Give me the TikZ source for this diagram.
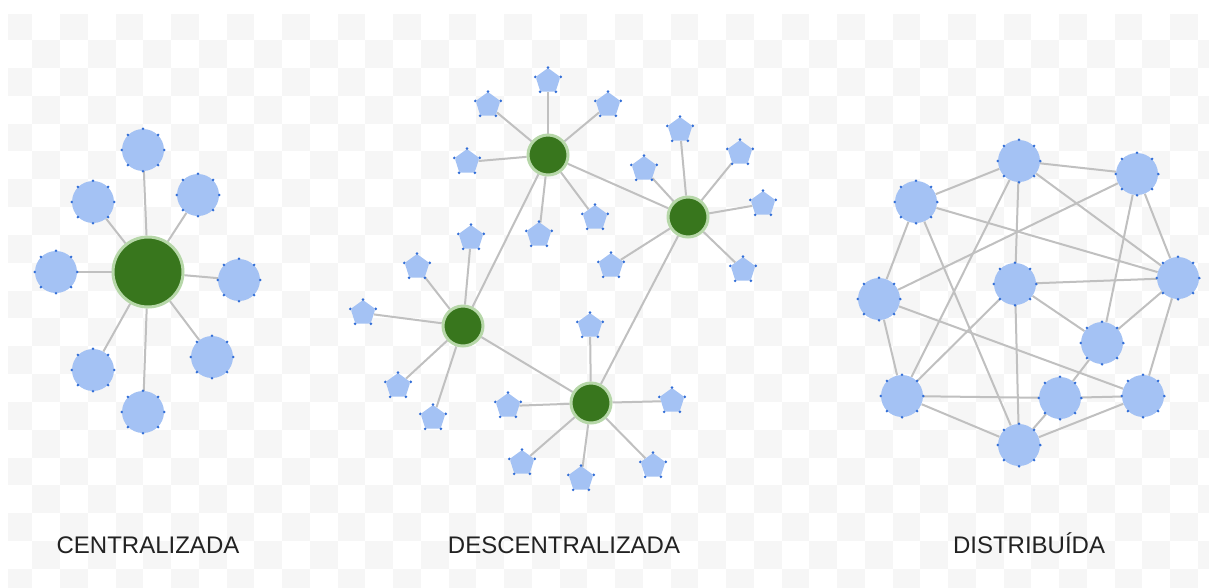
\documentclass[tikz,border=0pt]{standalone}
\usepackage{fontspec}
\setmainfont{Liberation Sans}
\usetikzlibrary{shapes.geometric}

\definecolor{checker}{RGB}{246,246,246}
\definecolor{hubgreen}{RGB}{56,118,29}
\definecolor{hubring}{RGB}{182,215,168}
\definecolor{peerfill}{RGB}{164,194,244}
\definecolor{peerdot}{RGB}{50,110,215}
\definecolor{linkgray}{RGB}{192,192,192}
\definecolor{captiontext}{RGB}{34,34,34}

\pgfdeclarelayer{board}
\pgfdeclarelayer{links}
\pgfsetlayers{board,links,main}

\tikzset{
  hub/.style={circle, fill=hubgreen, draw=hubring, line width=2.25pt,
    inner sep=0pt, minimum size=#1},
  peer/.style={circle, fill=peerfill, inner sep=0pt, minimum size=31.5pt},
  leaf/.style={regular polygon, regular polygon sides=5, fill=peerfill,
    inner sep=0pt, minimum size=19.5pt, rounded corners=1.5pt},
  link/.style={draw=linkgray, line width=1.5pt},
  caption/.style={font=\fontsize{18}{21}\selectfont, text=captiontext, anchor=base}
}

% small blue marks around a round peer / a pentagon leaf
\newcommand\ringmarks[1]{%
  \foreach \a in {0,45,...,315}{\fill[peerdot] (#1.\a) circle (1.1pt);}}
\newcommand\cornermarks[1]{%
  \foreach \c in {1,...,5}{\fill[peerdot] (#1.corner \c) circle (1.1pt);}}

\begin{document}
\begin{tikzpicture}[x=0.75pt, y=-0.75pt]
\useasboundingbox (0,0) rectangle (1209,587);

% checkered backdrop
\begin{pgfonlayer}{board}
  \fill[white] (0,0) rectangle (1209,587);
  \begin{scope}
    \clip (8,14) rectangle (1209,587);
    \foreach \r in {0,...,20}{
      \foreach \k in {0,...,43}{
        \pgfmathtruncatemacro\parity{mod(\r+\k,2)}
        \ifnum\parity=0
          \fill[checker] (4.55+27.75*\k, 12.16+27.84*\r) rectangle ++(27.75,27.84);
        \fi
      }
    }
  \end{scope}
\end{pgfonlayer}

% ---------- centralised network ----------
\node[hub=52.5pt] (c0) at (148,272) {};
\node[peer] (c1) at (143,150) {};
\node[peer] (c2) at (93,202) {};
\node[peer] (c3) at (198,195) {};
\node[peer] (c4) at (56,272) {};
\node[peer] (c5) at (239,280) {};
\node[peer] (c6) at (93,370) {};
\node[peer] (c7) at (212,357) {};
\node[peer] (c8) at (143,412) {};
\foreach \i in {1,...,8}{\ringmarks{c\i}}

% ---------- decentralised network ----------
\node[hub=30pt] (g1) at (548,155) {};
\node[hub=30pt] (g2) at (688,217) {};
\node[hub=30pt] (g3) at (463,326) {};
\node[hub=30pt] (g4) at (591,403) {};

\node[leaf] (a1) at (548,81) {};
\node[leaf] (a2) at (488,105) {};
\node[leaf] (a3) at (608,105) {};
\node[leaf] (a4) at (467,162) {};
\node[leaf] (a5) at (539,235) {};
\node[leaf] (a6) at (595,218) {};

\node[leaf] (b1) at (680,130) {};
\node[leaf] (b2) at (644,169) {};
\node[leaf] (b3) at (740,153) {};
\node[leaf] (b4) at (763,204) {};
\node[leaf] (b5) at (611,266) {};
\node[leaf] (b6) at (743,270) {};

\node[leaf] (d1) at (471,238) {};
\node[leaf] (d2) at (417,267) {};
\node[leaf] (d3) at (363,313) {};
\node[leaf] (d4) at (398,386) {};
\node[leaf] (d5) at (433,418) {};

\node[leaf] (e1) at (590,326) {};
\node[leaf] (e2) at (508,406) {};
\node[leaf] (e3) at (672,401) {};
\node[leaf] (e4) at (522,463) {};
\node[leaf] (e5) at (581,479) {};
\node[leaf] (e6) at (653,466) {};

\foreach \n in {a1,a2,a3,a4,a5,a6,b1,b2,b3,b4,b5,b6,d1,d2,d3,d4,d5,e1,e2,e3,e4,e5,e6}{\cornermarks{\n}}

% ---------- distributed network ----------
\node[peer] (p1) at (1019,161) {};
\node[peer] (p2) at (1137,174) {};
\node[peer] (p3) at (916,202) {};
\node[peer] (p4) at (1178,278) {};
\node[peer] (p5) at (1015,284) {};
\node[peer] (p6) at (879,299) {};
\node[peer] (p7) at (1102,343) {};
\node[peer] (p8) at (902,396) {};
\node[peer] (p9) at (1060,398) {};
\node[peer] (p10) at (1143,396) {};
\node[peer] (p11) at (1019,445) {};
\foreach \i in {1,...,11}{\ringmarks{p\i}}

% ---------- links ----------
\begin{pgfonlayer}{links}
  \foreach \i in {1,...,8}{\draw[link] (c0) -- (c\i);}
  \foreach \i in {1,...,6}{\draw[link] (g1) -- (a\i); \draw[link] (g2) -- (b\i); \draw[link] (g4) -- (e\i);}
  \foreach \i in {1,...,5}{\draw[link] (g3) -- (d\i);}
  \draw[link] (g1) -- (g2);
  \draw[link] (g1) -- (g3);
  \draw[link] (g3) -- (g4);
  \draw[link] (g2) -- (g4);
  \foreach \u/\v in {p3/p1, p1/p2, p3/p6, p3/p4, p3/p11, p1/p8, p1/p5, p1/p4,
                     p2/p6, p2/p7, p2/p4, p5/p4, p5/p7, p5/p8, p5/p11, p6/p8,
                     p6/p10, p4/p7, p4/p10, p7/p9, p8/p9, p8/p11, p9/p10,
                     p9/p11, p10/p11}
    {\draw[link] (\u) -- (\v);}
\end{pgfonlayer}

% ---------- captions ----------
\node[caption] (t1) at (148,553) {CENTRALIZADA};
\node[caption] (t2) at (564,553) {DESCENTRALIZADA};
\node[caption] (t3) at (1029,553) {DISTRIBUÍDA};
\end{tikzpicture}
\end{document}
